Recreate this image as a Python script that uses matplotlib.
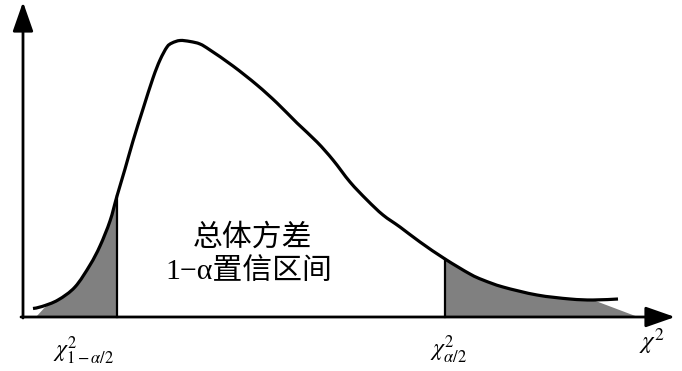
import matplotlib
matplotlib.use("Agg")
import matplotlib.pyplot as plt
from matplotlib.path import Path
from matplotlib.patches import PathPatch
import numpy as np

plt.rcParams['mathtext.fontset'] = 'stix'

# Curve: horizontal position and pixel row (converted to height)
curve_x = [33, 42, 58, 75, 90, 100, 110, 117, 125, 133, 143, 153, 160, 167, 172, 180,
           190, 200, 210, 233, 257, 277, 297, 317, 333, 350, 367, 383, 400, 420,
           445, 470, 483, 503, 537, 570, 593, 618]
curve_py = [308.5, 306.5, 300, 287, 265, 246, 221, 196, 169, 141, 109, 78, 60, 47, 43, 40.5,
            41.5, 44, 50, 66, 85, 103, 123, 142, 160, 182, 200, 215, 227, 242,
            259, 274, 280, 287, 295, 299, 300, 299]
baseline_py = 317
curve_y = [baseline_py - v for v in curve_py]

lower_cut = 117      # chi2_{1-alpha/2}
upper_cut = 445      # chi2_{alpha/2}
tail_join = 593      # right shaded area leaves the curve here
tail_end = 638       # where the right shaded tail meets the axis
fill_left_start = 36

label_lower = r'$\chi^2_{1-\alpha/2}$'
label_upper = r'$\chi^2_{\alpha/2}$'
label_axis = r'$\chi^2$'
center_line1 = '总体方差'
center_line2 = '1−α置信区间'

fig = plt.figure(figsize=(6.82, 3.71), dpi=100)
ax = fig.add_axes([0, 0, 1, 1])
ax.set_xlim(0, 682)
ax.set_ylim(baseline_py - 371, baseline_py)
ax.axis('off')

P = np.column_stack([np.array(curve_x, float), np.array(curve_y, float)])
n = len(P)


def bezier_segments(i0, i1):
    """Smooth Catmull-Rom style Bezier segments between point i0 and i1."""
    verts, codes = [], []
    for i in range(i0, i1):
        p0 = P[max(i - 1, 0)]
        p1 = P[i]
        p2 = P[i + 1]
        p3 = P[min(i + 2, n - 1)]
        c1 = p1 + (p2 - p0) / 6.0
        c2 = p2 - (p3 - p1) / 6.0
        verts += [tuple(c1), tuple(c2), tuple(p2)]
        codes += [Path.CURVE4] * 3
    return verts, codes


gray = '#808080'
idx_lo = curve_x.index(lower_cut)
idx_up = curve_x.index(upper_cut)
idx_join = curve_x.index(tail_join)

# left tail fill
v, c = bezier_segments(1, idx_lo)
verts = [(fill_left_start, 0), (P[1][0], P[1][1] - 4)] + v + [(lower_cut, 0), (fill_left_start, 0)]
codes = [Path.MOVETO, Path.LINETO] + c + [Path.LINETO, Path.CLOSEPOLY]
ax.add_patch(PathPatch(Path(verts, codes), facecolor=gray, lw=0, zorder=1))

# right tail fill
v, c = bezier_segments(idx_up, idx_join)
verts = [(upper_cut, 0), tuple(P[idx_up])] + v + [(tail_end, 0), (upper_cut, 0)]
codes = [Path.MOVETO, Path.LINETO] + c + [Path.LINETO, Path.CLOSEPOLY]
ax.add_patch(PathPatch(Path(verts, codes), facecolor=gray, lw=0, zorder=1))

# curve
v, c = bezier_segments(0, n - 1)
ax.add_patch(PathPatch(Path([tuple(P[0])] + v, [Path.MOVETO] + c),
                       facecolor='none', edgecolor='black', lw=2.3,
                       capstyle='butt', zorder=3))

# cut lines
ax.plot([lower_cut, lower_cut], [0, P[idx_lo][1]], color='black', lw=1.6, zorder=3)
ax.plot([upper_cut, upper_cut], [0, P[idx_up][1]], color='black', lw=1.6, zorder=3)

# axes with arrows
arrow = dict(arrowstyle='-|>,head_length=1.0,head_width=0.35',
             mutation_scale=18, lw=2.0, color='black', shrinkA=0, shrinkB=0)
ax.annotate('', xy=(675, 0), xytext=(21, 0), arrowprops=arrow, zorder=4)
ax.annotate('', xy=(23, 315), xytext=(23, -1), arrowprops=arrow, zorder=4)

# labels
ax.text(84, -34, label_lower, fontsize=17, ha='center', va='center')
ax.text(448, -33, label_upper, fontsize=17, ha='center', va='center')
ax.text(652, -24, label_axis, fontsize=18, ha='center', va='center')

fam = ['Liberation Serif', 'Noto Sans CJK SC']
ax.text(253, 80, center_line1, fontsize=21.5, ha='center', va='center',
        family=['Noto Sans CJK SC'])
ax.text(249, 45, center_line2, fontsize=21.5, ha='center', va='center', family=fam)

fig.savefig('out.png', dpi=100)
